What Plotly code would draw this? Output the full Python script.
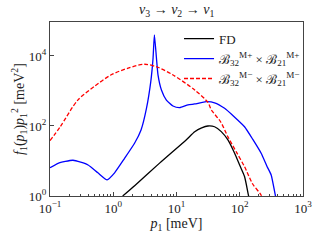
import plotly.graph_objects as go

# ---- data ----
p_blue = [0.1, 0.134, 0.231, 0.40, 0.571, 0.80, 1.05, 1.51, 2.17, 2.75, 3.35, 3.92, 4.26, 4.47,
          4.82, 5.1, 5.78, 6.92, 8.8, 11.2, 15.2, 19.4, 29.6, 40, 57.6, 80, 119, 160, 218, 270, 314, 367, 420]
f_blue = [6.4, 8.6, 10.5, 7.7, 4.6, 2.9, 4.6, 11.9, 32, 77, 318, 1850, 8700, 40000,
          8700, 2900, 1070, 550, 372, 333, 400, 425, 493, 460, 320, 190, 95, 42, 16.6, 7.0, 4.0, 1.0, 0.3]

p_red = [0.1, 0.145, 0.275, 0.51, 0.93, 1.72, 3.15, 5.0, 8.7, 19.4, 31.4, 35.5, 50, 65, 90, 119, 160, 218, 260]
f_red = [38, 95, 550, 1380, 2900, 4500, 5800, 4800, 2900, 1070, 470, 290, 130, 49, 17, 6.9, 2.2, 1.05, 0.4]

p_fd = [1.41, 2.2, 5.4, 14.2, 19.4, 25, 31.4, 40, 51, 65, 83, 100, 119, 138, 160]
f_fd = [1.0, 2.0, 8.7, 40, 68, 88, 100, 95, 69, 40, 16.6, 7.5, 3.6, 1.0, 0.3]

x_tickvals = [0.1, 1, 10, 100, 1000]
x_ticktext = ["10<sup>−1</sup>", "10<sup>0</sup>", "10<sup>1</sup>", "10<sup>2</sup>", "10<sup>3</sup>"]
y_tickvals = [1, 100, 10000]
y_ticktext = ["10<sup>0</sup>", "10<sup>2</sup>", "10<sup>4</sup>"]

minor_x = [m * 10 ** k for k in range(-1, 3) for m in range(2, 10)]

FONT = "Liberation Serif, Times New Roman, serif"
TITLE = "<i>ν</i><sub>3</sub> → <i>ν</i><sub>2</sub> → <i>ν</i><sub>1</sub>"

fig = go.Figure()
fig.add_trace(go.Scatter(x=p_fd, y=f_fd, mode="lines", name="FD",
                         line=dict(color="black", width=1.3, shape="spline", smoothing=0.6)))
fig.add_trace(go.Scatter(x=p_blue, y=f_blue, mode="lines",
                         name="ℬ<sub>32</sub><sup>M+</sup> × ℬ<sub>21</sub><sup>M+</sup>",
                         line=dict(color="blue", width=1.3, shape="spline", smoothing=0.5)))
fig.add_trace(go.Scatter(x=p_red, y=f_red, mode="lines",
                         name="ℬ<sub>32</sub><sup>M−</sup> × ℬ<sub>21</sub><sup>M−</sup>",
                         line=dict(color="red", width=1.3, dash="4px,2px", shape="spline", smoothing=0.8)))

axis_common = dict(type="log", showgrid=False, zeroline=False, showline=True, mirror=True,
                   linecolor="#444", linewidth=1, ticks="inside", ticklen=4, tickcolor="#444",
                   automargin=False,
                   tickfont=dict(family=FONT, size=13, color="#222"))

fig.update_xaxes(**axis_common, range=[-1, 3], tickvals=x_tickvals, ticktext=x_ticktext,
                 minor=dict(tickvals=minor_x, ticks="inside", ticklen=2, tickcolor="#444"),
                 title=dict(text="<i>p</i><sub>1</sub> [meV]", font=dict(family=FONT, size=14, color="#222"),
                            standoff=0))
fig.update_yaxes(**axis_common, range=[0, 4.97], tickvals=y_tickvals, ticktext=y_ticktext,
                 title=dict(text="<i>f</i><sub>1</sub>(<i>p</i><sub>1</sub>)<i>p</i><sub>1</sub><sup>2</sup> [meV<sup>2</sup>]",
                            font=dict(family=FONT, size=14, color="#222"), standoff=0))

fig.add_annotation(text=TITLE, xref="paper", yref="paper", x=0.5, y=1, xanchor="center",
                   yanchor="bottom", yshift=1, showarrow=False,
                   font=dict(family=FONT, size=14, color="#222"))

fig.update_layout(
    width=320, height=240,
    margin=dict(l=50, r=17, t=22, b=44, autoexpand=False),
    paper_bgcolor="white", plot_bgcolor="white",
    legend=dict(x=0.51, y=0.99, xanchor="left", yanchor="top", bgcolor="rgba(0,0,0,0)",
                font=dict(family=FONT, size=13, color="#222"), tracegroupgap=0, itemwidth=30),
    showlegend=True,
)

fig.write_html("out.html", config={"displayModeBar": False})
with open("out.html", encoding="utf-8") as fh:
    html = fh.read()
html = html.replace("<head>", "<head><style>html,body{margin:0;padding:0;overflow:hidden;}</style>", 1)
with open("out.html", "w", encoding="utf-8") as fh:
    fh.write(html)
